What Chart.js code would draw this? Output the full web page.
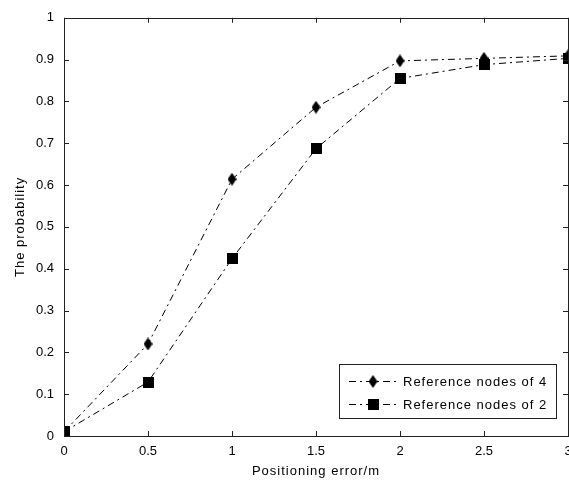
<!DOCTYPE html>
<html>
<head>
<meta charset="utf-8">
<script src="https://cdn.jsdelivr.net/npm/chart.js@4.4.1/dist/chart.umd.min.js"></script>
<style>
  html, body { margin: 0; padding: 0; background: #fff; overflow: hidden; }
  #wrap { width: 575px; height: 485px; }
</style>
</head>
<body>
<div id="wrap"><canvas id="chart" width="575" height="485"></canvas></div>
<script>
// Probability vs positioning error, two reference-node counts

const xValues = [0, 0.5, 1, 1.5, 2, 2.5, 3];
const nodes4 = [0.01, 0.22, 0.614, 0.786, 0.897, 0.903, 0.909];
const nodes2 = [0.01, 0.129, 0.424, 0.687, 0.855, 0.888, 0.903];
const seriesLabels = ["Reference nodes of 4", "Reference nodes of 2"];
const xTitle = "Positioning error/m";
const yTitle = "The probability";

const FONT = "'Liberation Sans', Arial, sans-serif";
const DASH = [7, 4, 2, 4];

function makeDiamond() {
  const c = document.createElement("canvas");
  c.width = 9;
  c.height = 13;
  const g = c.getContext("2d");
  g.fillStyle = "#000";
  g.beginPath();
  g.moveTo(4.5, 0);
  g.lineTo(9, 6.5);
  g.lineTo(4.5, 13);
  g.lineTo(0, 6.5);
  g.closePath();
  g.fill();
  return c;
}

function makeSquare() {
  const c = document.createElement("canvas");
  c.width = 11;
  c.height = 11;
  const g = c.getContext("2d");
  g.fillStyle = "#000";
  g.fillRect(0, 0, 11, 11);
  return c;
}

const diamond = makeDiamond();
const square = makeSquare();
const markers = [diamond, square];

function toPoints(ys) {
  return xValues.map((x, i) => ({ x: x, y: ys[i] }));
}

function tickText(value) {
  return String(Number(value.toFixed(2)));
}

// frame, inward ticks, axis titles and legend box (MATLAB look)
const matlabFrame = {
  id: "matlabFrame",
  afterDatasetsDraw(chart) {
    const ctx = chart.ctx;
    const a = chart.chartArea;
    const xs = chart.scales.x;
    const ys = chart.scales.y;
    ctx.save();
    ctx.strokeStyle = "#222";
    ctx.lineWidth = 1;
    ctx.strokeRect(Math.round(a.left) + 0.5, Math.round(a.top) + 0.5,
      Math.round(a.right - a.left), Math.round(a.bottom - a.top));
    ctx.beginPath();
    xs.ticks.forEach((t) => {
      const px = Math.round(xs.getPixelForValue(t.value)) + 0.5;
      ctx.moveTo(px, a.bottom);
      ctx.lineTo(px, a.bottom - 5);
      ctx.moveTo(px, a.top);
      ctx.lineTo(px, a.top + 5);
    });
    ys.ticks.forEach((t) => {
      const py = Math.round(ys.getPixelForValue(t.value)) + 0.5;
      ctx.moveTo(a.left, py);
      ctx.lineTo(a.left + 5, py);
      ctx.moveTo(a.right, py);
      ctx.lineTo(a.right - 5, py);
    });
    ctx.stroke();

    // axis titles
    ctx.fillStyle = "#000";
    ctx.font = "13px " + FONT;
    ctx.letterSpacing = "1px";
    ctx.textAlign = "center";
    ctx.textBaseline = "middle";
    ctx.fillText(xTitle, (a.left + a.right) / 2, 471);
    ctx.save();
    ctx.translate(20, (a.top + a.bottom) / 2);
    ctx.rotate(-Math.PI / 2);
    ctx.fillText(yTitle, 0, 0);
    ctx.restore();

    // legend
    const box = { left: 339.5, top: 364.5, right: 556.5, bottom: 418.5 };
    ctx.fillStyle = "#fff";
    ctx.fillRect(box.left, box.top, box.right - box.left, box.bottom - box.top);
    ctx.strokeStyle = "#222";
    ctx.strokeRect(box.left, box.top, box.right - box.left, box.bottom - box.top);
    const rows = [381, 404];
    chart.data.datasets.forEach((ds, i) => {
      const y = rows[i];
      ctx.strokeStyle = "#000";
      ctx.setLineDash(DASH);
      ctx.beginPath();
      ctx.moveTo(349, y + 0.5);
      ctx.lineTo(397, y + 0.5);
      ctx.stroke();
      ctx.setLineDash([]);
      const m = markers[i];
      ctx.drawImage(m, 373 - m.width / 2, y - m.height / 2 + 0.5);
      ctx.fillStyle = "#000";
      ctx.textAlign = "left";
      ctx.fillText(ds.label, 403, y + 1);
    });
    ctx.restore();
  },
};

new Chart(document.getElementById("chart"), {
  type: "line",
  data: {
    datasets: [
      {
        label: seriesLabels[0],
        data: toPoints(nodes4),
        borderColor: "#000",
        borderWidth: 1,
        borderDash: DASH,
        pointStyle: diamond,
        pointRadius: 6,
        tension: 0,
      },
      {
        label: seriesLabels[1],
        data: toPoints(nodes2),
        borderColor: "#000",
        borderWidth: 1,
        borderDash: DASH,
        pointStyle: square,
        pointRadius: 6,
        tension: 0,
      },
    ],
  },
  options: {
    responsive: false,
    animation: false,
    layout: { padding: { top: 15, right: 4, left: 0, bottom: 0 } },
    plugins: {
      legend: { display: false },
      tooltip: { enabled: false },
    },
    scales: {
      x: {
        type: "linear",
        min: 0,
        max: 3,
        ticks: {
          stepSize: 0.5,
          padding: 8,
          color: "#000",
          font: { family: FONT, size: 13 },
          maxRotation: 0,
          callback: tickText,
        },
        grid: { display: false, drawTicks: false },
        border: { display: false },
        afterFit(scale) {
          scale.height = 49;
          scale.paddingRight = 0;
        },
      },
      y: {
        min: 0,
        max: 1,
        ticks: {
          stepSize: 0.1,
          padding: 10,
          color: "#000",
          font: { family: FONT, size: 13 },
          callback: tickText,
        },
        grid: { display: false, drawTicks: false },
        border: { display: false },
        afterFit(scale) {
          scale.width = 64;
        },
      },
    },
  },
  plugins: [matlabFrame],
});
</script>
</body>
</html>
